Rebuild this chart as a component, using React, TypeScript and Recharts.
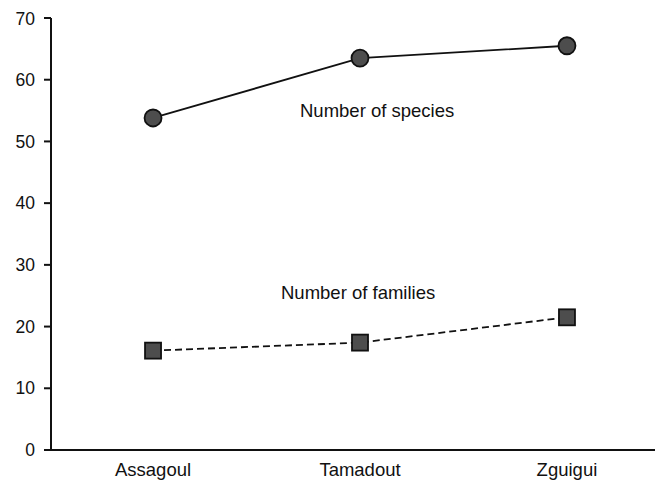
import { LineChart, Line, XAxis, YAxis, Customized } from 'recharts';

const categories = ['Assagoul', 'Tamadout', 'Zguigui'];
const species = [53.8, 63.5, 65.5];
const families = [16.1, 17.4, 21.5];
const yTicks = [0, 10, 20, 30, 40, 50, 60, 70];

const data = categories.map((name, i) => ({
  idx: i,
  name,
  species: species[i],
  families: families[i],
}));

const FONT = '"Liberation Sans", Arial, Helvetica, sans-serif';

const CircleDot = (props: any) => {
  const { cx, cy } = props;
  return <circle cx={cx} cy={cy} r={8.5} fill="#4d4d4d" stroke="#111" strokeWidth={1.8} />;
};

const SquareDot = (props: any) => {
  const { cx, cy } = props;
  return (
    <rect x={cx - 8} y={cy - 8} width={16} height={16} fill="#4d4d4d" stroke="#111" strokeWidth={1.8} />
  );
};

const Notes = () => (
  <g fontFamily={FONT} fontSize={18.5} fill="#111">
    <text x={292} y={109}>Number of species</text>
    <text x={273} y={291}>Number of families</text>
  </g>
);

export default function App() {
  return (
    <LineChart
      width={655}
      height={475}
      data={data}
      margin={{ top: 10, right: 0, bottom: 0, left: 0 }}
      style={{ fontFamily: FONT }}
    >
      <XAxis
        dataKey="idx"
        type="number"
        domain={[-0.493, 2.464]}
        allowDataOverflow
        ticks={[0, 1, 2]}
        tickFormatter={(v: number) => categories[v]}
        tickLine={false}
        tickSize={0}
        tickMargin={13}
        height={33}
        stroke="#111"
        strokeWidth={2}
        tick={{ fill: '#111', fontSize: 18.5 }}
      />
      <YAxis
        type="number"
        domain={[0, 70]}
        ticks={yTicks}
        width={43}
        tickSize={7}
        tickMargin={9}
        stroke="#111"
        strokeWidth={2}
        tick={{ fill: '#111', fontSize: 17.5 }}
      />
      <Line
        dataKey="species"
        stroke="#111"
        strokeWidth={1.8}
        dot={<CircleDot />}
        activeDot={false}
        isAnimationActive={false}
      />
      <Line
        dataKey="families"
        stroke="#111"
        strokeWidth={1.8}
        strokeDasharray="7 4"
        dot={<SquareDot />}
        activeDot={false}
        isAnimationActive={false}
      />
      <Customized component={Notes} />
    </LineChart>
  );
}
